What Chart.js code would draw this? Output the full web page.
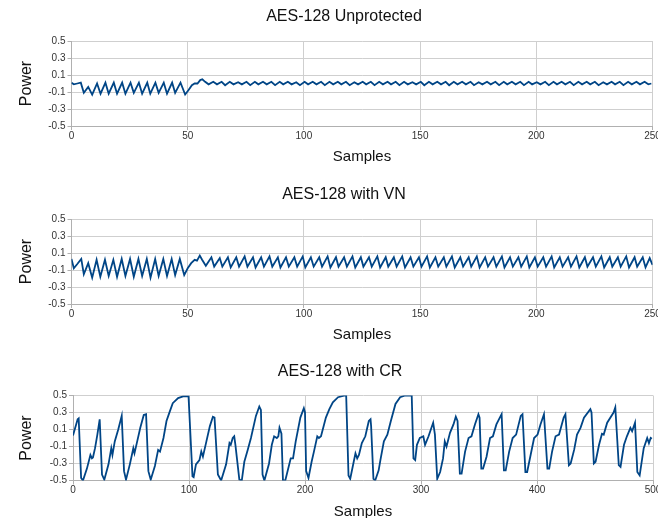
<!DOCTYPE html>
<html>
<head>
<meta charset="utf-8">
<style>
html,body{margin:0;padding:0;background:#fff;overflow:hidden;}
.painel{position:absolute;left:0;width:658px;}
.painel canvas{display:block;}
</style>
<script src="https://cdn.jsdelivr.net/npm/chart.js@4.4.0/dist/chart.umd.min.js"></script>
</head>
<body>
<div class="painel" style="top:0px;height:178px"><canvas id="g1" width="658" height="178"></canvas></div>
<div class="painel" style="top:178px;height:178px"><canvas id="g2" width="658" height="178"></canvas></div>
<div class="painel" style="top:356px;height:170px"><canvas id="g3" width="658" height="170"></canvas></div>
<script>
// valores
const yTicks = [-0.5, -0.3, -0.1, 0.1, 0.3, 0.5];
const xTicksCurto = [0, 50, 100, 150, 200, 250];
const xTicksLongo = [0, 100, 200, 300, 400, 500];

// AES-128 Unprotected (amostra, potência)
const unprotX = [
  0, 1, 2.5, 4, 5.3, 7.2, 8.9, 11, 12.5, 14.6,
  16, 18.2, 19.6, 21.8, 23.2, 25.4, 26.8, 29, 30.4, 32.6,
  33.9, 36.1, 37.5, 39.7, 41.1, 43.3, 44.6, 46.9, 48.9, 50.3,
  51.8, 53, 54.2, 55.4, 56.3, 57.5, 59.0, 61.0, 62.6, 64.6,
  66.1, 68.1, 69.7, 71.7, 73.3, 75.3, 76.9, 78.9, 80.4, 82.4,
  84.0, 86.0, 87.6, 89.6, 91.1, 93.1, 94.7, 96.7, 98.3, 100.3,
  101.8, 103.8, 105.4, 107.4, 109.0, 111.0, 112.6, 114.6, 116.1, 118.1,
  119.7, 121.7, 123.3, 125.3, 126.8, 128.8, 130.4, 132.4, 134.0, 136.0,
  137.5, 139.5, 141.1, 143.1, 144.7, 146.7, 148.3, 150.3, 151.8, 153.8,
  155.4, 157.4, 159.0, 161.0, 162.5, 164.5, 166.1, 168.1, 169.7, 171.7,
  173.2, 175.2, 176.8, 178.8, 180.4, 182.4, 184.0, 186.0, 187.5, 189.5,
  191.1, 193.1, 194.7, 196.7, 198.2, 200.2, 201.8, 203.8, 205.4, 207.4,
  208.9, 210.9, 212.5, 214.5, 216.1, 218.1, 219.7, 221.7, 223.2, 225.2,
  226.8, 228.8, 230.4, 232.4, 233.9, 235.9, 237.5, 239.5, 241.1, 243.1,
  244.6, 246.6, 248.2, 249.5
];
const unprotY = [
  0.01, -0.01, 0.0, 0.01, -0.11, -0.04, -0.13, 0.0, -0.12, 0.01,
  -0.12, 0.01, -0.12, 0.01, -0.12, 0.01, -0.11, 0.01, -0.12, 0.01,
  -0.12, 0.01, -0.11, 0.01, -0.12, 0.01, -0.11, 0.01, -0.13, -0.08,
  -0.02, 0.0, 0.0, 0.04, 0.05, 0.02, -0.01, 0.02, -0.01, 0.02,
  -0.02, 0.02, -0.01, 0.015, -0.01, 0.02, -0.02, 0.02, -0.01, 0.02,
  -0.01, 0.02, -0.02, 0.02, -0.01, 0.02, -0.01, 0.015, -0.02, 0.02,
  -0.01, 0.02, -0.01, 0.02, -0.02, 0.02, -0.01, 0.02, -0.01, 0.02,
  -0.02, 0.015, -0.01, 0.02, -0.01, 0.02, -0.02, 0.02, -0.01, 0.02,
  -0.01, 0.02, -0.02, 0.02, -0.01, 0.015, -0.01, 0.02, -0.02, 0.02,
  -0.01, 0.02, -0.01, 0.02, -0.02, 0.02, -0.01, 0.02, -0.01, 0.02,
  -0.02, 0.015, -0.01, 0.02, -0.01, 0.02, -0.02, 0.02, -0.01, 0.02,
  -0.01, 0.02, -0.02, 0.02, -0.01, 0.015, -0.01, 0.02, -0.02, 0.02,
  -0.01, 0.02, -0.01, 0.02, -0.02, 0.02, -0.01, 0.02, -0.01, 0.02,
  -0.02, 0.015, -0.01, 0.02, -0.01, 0.02, -0.02, 0.02, -0.01, 0.02,
  -0.01, 0.02, -0.01, 0.0
];

// AES-128 with VN
const vnX = [
  0, 1, 2.5, 4.2, 5.3, 7.2, 8.9, 10.8, 12.4, 14.4,
  16, 18, 19.6, 21.6, 23.2, 25.2, 26.8, 28.8, 30.4, 32.4,
  34, 36, 37.5, 39.5, 41.1, 43.1, 44.6, 46.6, 48.5, 50,
  51.5, 53, 54, 55.2, 56.2, 57.8, 60.2, 61.4, 63.8, 64.9,
  67.3, 68.5, 70.9, 72.1, 74.5, 75.7, 78.1, 79.2, 81.6, 82.8,
  85.2, 86.4, 88.8, 89.9, 92.3, 93.5, 95.9, 97.1, 99.5, 100.6,
  103.0, 104.2, 106.6, 107.8, 110.2, 111.4, 113.8, 114.9, 117.3, 118.5,
  120.9, 122.1, 124.5, 125.6, 128.0, 129.2, 131.6, 132.8, 135.2, 136.3,
  138.7, 139.9, 142.3, 143.5, 145.9, 147.1, 149.5, 150.6, 153.0, 154.2,
  156.6, 157.8, 160.2, 161.3, 163.7, 164.9, 167.3, 168.5, 170.9, 172.0,
  174.4, 175.6, 178.0, 179.2, 181.6, 182.8, 185.2, 186.3, 188.7, 189.9,
  192.3, 193.5, 195.9, 197.0, 199.4, 200.6, 203.0, 204.2, 206.6, 207.7,
  210.1, 211.3, 213.7, 214.9, 217.3, 218.5, 220.9, 222.0, 224.4, 225.6,
  228.0, 229.2, 231.6, 232.7, 235.1, 236.3, 238.7, 239.9, 242.3, 243.4,
  245.8, 247.0, 248.8, 250
];
const vnY = [
  0.03, -0.08, -0.03, 0.03, -0.15, -0.02, -0.19, 0.02, -0.18, 0.02,
  -0.17, 0.02, -0.18, 0.03, -0.17, 0.03, -0.18, 0.03, -0.17, 0.03,
  -0.19, 0.03, -0.17, 0.03, -0.17, 0.03, -0.16, 0.03, -0.16, -0.08,
  -0.02, 0.02, 0.01, 0.07, 0.02, -0.05, 0.05, -0.06, 0.04, -0.06,
  0.05, -0.07, 0.05, -0.06, 0.06, -0.06, 0.05, -0.07, 0.05, -0.06,
  0.06, -0.06, 0.05, -0.07, 0.05, -0.06, 0.05, -0.06, 0.06, -0.07,
  0.05, -0.06, 0.05, -0.06, 0.06, -0.07, 0.05, -0.06, 0.05, -0.06,
  0.06, -0.07, 0.05, -0.06, 0.05, -0.06, 0.06, -0.07, 0.05, -0.06,
  0.05, -0.06, 0.06, -0.07, 0.05, -0.06, 0.05, -0.06, 0.06, -0.07,
  0.05, -0.06, 0.05, -0.06, 0.06, -0.07, 0.05, -0.06, 0.05, -0.06,
  0.06, -0.07, 0.05, -0.06, 0.05, -0.06, 0.06, -0.07, 0.05, -0.06,
  0.05, -0.06, 0.06, -0.07, 0.05, -0.06, 0.05, -0.06, 0.06, -0.07,
  0.05, -0.06, 0.05, -0.06, 0.06, -0.07, 0.05, -0.06, 0.05, -0.06,
  0.06, -0.07, 0.05, -0.06, 0.05, -0.06, 0.06, -0.07, 0.05, -0.06,
  0.05, -0.07, 0.04, -0.04
];

// AES-128 with CR
const crX = [
  0, 4, 4.9, 7, 8.6, 12, 15, 16.3, 17.2, 19,
  21, 23, 25, 27, 30.6, 33, 34, 36, 39, 42,
  44, 45.7, 49, 52, 53, 55, 58, 61, 63, 65,
  67, 70.6, 73.4, 75, 78, 80.6, 83.4, 86, 90.6, 94.9,
  99.6, 103, 104, 106, 109, 110.6, 112, 115, 118, 120.6,
  122, 124.9, 127.7, 132, 134.9, 136, 137.7, 139, 140, 143.4,
  145.5, 147.7, 150.6, 153.4, 157.7, 160.6, 162, 163.4, 165, 169,
  171.4, 173.4, 175.7, 177, 178, 179.7, 181, 183, 187.7, 189.7,
  192, 196, 199, 200, 201, 203, 205.7, 207.7, 210.6, 212,
  213.8, 218, 221, 224, 228.5, 234.5, 235.5, 237.5, 239, 242,
  243.5, 245, 246.5, 249, 252, 255, 256.5, 257, 259, 260.5,
  263.5, 265, 268, 271, 274, 278, 282, 286.5, 292, 293.5,
  295, 296.5, 299, 302, 303.5, 306.5, 309, 310.5, 312, 314,
  316.5, 319, 320.5, 322, 325, 328, 330, 331.5, 333.5, 335,
  338, 341, 343.5, 346.5, 349.5, 350.5, 352, 353.5, 356.5, 359.5,
  362, 365, 369.5, 371.5, 373, 376, 379, 382, 386, 387.5,
  390, 391.5, 394.5, 397.5, 400.5, 403, 406, 409, 410.5, 413,
  416, 419, 423, 424.5, 427.5, 429, 432, 434.5, 437.5, 440.5,
  446, 447, 449, 450.5, 453.5, 456, 457.5, 460.5, 466, 467.5,
  470.5, 472, 475, 477.5, 480.5, 482, 484.5, 486.5, 488.5, 492,
  495, 496.5, 498, 499
];
const crY = [
  0.03, 0.22, 0.23, -0.47, -0.5, -0.36, -0.2, -0.24, -0.23, -0.12,
  0.04, 0.22, -0.43, -0.49, -0.31, -0.12, -0.2, -0.04, 0.1, 0.26,
  -0.39, -0.49, -0.31, -0.12, -0.18, -0.06, 0.12, 0.27, 0.28, -0.39,
  -0.49, -0.33, -0.14, -0.16, 0.0, 0.2, 0.31, 0.41, 0.47, 0.49,
  0.49, -0.45, -0.46, -0.31, -0.26, -0.16, -0.22, -0.04, 0.14, 0.25,
  0.24, -0.43, -0.5, -0.31, -0.06, -0.08, 0.0, 0.02, -0.08, -0.49,
  -0.5, -0.28, -0.14, 0.0, 0.26, 0.37, 0.33, -0.43, -0.5, -0.3,
  -0.08, 0.02, 0.0, 0.02, 0.12, 0.05, -0.5, -0.5, -0.24, -0.24,
  -0.04, 0.24, 0.35, 0.3, -0.39, -0.47, -0.28, -0.16, 0.02, 0.0,
  0.02, 0.24, 0.34, 0.42, 0.48, 0.5, 0.5, -0.44, -0.48, -0.28,
  -0.18, -0.24, -0.2, -0.06, 0.02, 0.2, 0.22, 0.14, -0.48, -0.5,
  -0.38, -0.26, -0.04, 0.04, 0.2, 0.4, 0.48, 0.5, 0.5, -0.24,
  -0.26, -0.08, 0.0, 0.02, -0.08, 0.02, 0.12, 0.18, 0.04, -0.48,
  -0.4, -0.24, -0.04, -0.1, 0.06, 0.16, 0.25, 0.2, -0.42, -0.42,
  -0.16, 0.0, 0.02, 0.16, 0.28, 0.24, -0.36, -0.36, -0.22, 0.0,
  0.02, 0.16, 0.28, -0.38, -0.38, -0.16, 0.0, 0.04, 0.26, 0.28,
  -0.4, -0.4, -0.2, 0.0, 0.04, 0.16, 0.28, -0.36, -0.36, -0.16,
  0.02, 0.04, 0.24, 0.28, -0.32, -0.3, -0.14, 0.04, 0.12, 0.24,
  0.34, 0.3, -0.3, -0.28, -0.08, 0.05, 0.04, 0.18, 0.3, 0.36,
  -0.32, -0.34, -0.08, 0.02, 0.12, 0.08, 0.18, -0.4, -0.44, -0.12,
  0.0, -0.06, 0.0, -0.01
];

const FONTE = "'Liberation Sans', Arial, sans-serif";
const COR_LINHA = '#004586';
const COR_GRADE = '#cfcfcf';

function pontos(xs, ys){
    if (xs.length !== ys.length) throw new Error('tamanhos diferentes: ' + xs.length + ' x ' + ys.length);
    return xs.map((x, i) => ({x: x, y: ys[i]}));
}

// geometria de cada painel (coordenadas locais do canvas)
function criarGrafico(id, titulo, xs, ys, xTicks, g){
    const ctx = document.getElementById(id).getContext('2d');
    const padEsq = g.tituloCentro * 2 - g.plotDir;
    return new Chart(ctx, {
        type: 'line',
        data: {datasets: [{
            data: pontos(xs, ys),
            borderColor: COR_LINHA,
            borderWidth: 1.8,
            pointRadius: 0,
            tension: 0,
            fill: false
        }]},
        options: {
            responsive: false,
            animation: false,
            devicePixelRatio: 1,
            parsing: false,
            layout: {padding: {left: padEsq, right: g.largura - g.plotDir, top: 0, bottom: 0}},
            plugins: {
                legend: {display: false},
                tooltip: {enabled: false},
                title: {
                    display: true, text: titulo, color: '#111',
                    font: {family: FONTE, size: 16, weight: 'normal', lineHeight: 1.2},
                    padding: {top: g.tituloY - 9.6, bottom: g.plotTopo - (g.tituloY - 9.6) - 19.2}
                }
            },
            scales: {
                x: {
                    type: 'linear', min: xTicks[0], max: xTicks[xTicks.length - 1],
                    afterBuildTicks: s => { s.ticks = xTicks.map(v => ({value: v})); },
                    afterFit: s => { s.height = g.altura - g.plotBase; s.paddingLeft = 0; s.paddingRight = 0; },
                    grid: {color: COR_GRADE, tickLength: 4, tickColor: '#b0b0b0'},
                    border: {color: '#b0b0b0'},
                    ticks: {font: {family: FONTE, size: 10}, color: '#333', padding: 0, maxRotation: 0, autoSkip: false},
                    title: {display: true, text: 'Samples', color: '#111',
                        font: {family: FONTE, size: 15, lineHeight: 1.2},
                        padding: {top: 0, bottom: (g.altura - g.samplesY) - 9}}
                },
                y: {
                    min: -0.5, max: 0.5,
                    afterBuildTicks: s => { s.ticks = yTicks.map(v => ({value: v})); },
                    afterFit: s => { s.width = g.plotEsq - padEsq; s.paddingTop = 0; s.paddingBottom = 0; },
                    grid: {color: COR_GRADE, tickLength: 4, tickColor: '#b0b0b0'},
                    border: {color: '#b0b0b0'},
                    ticks: {font: {family: FONTE, size: 10}, color: '#333', padding: 2,
                        callback: v => v.toFixed(1)},
                    title: {display: true, text: 'Power', color: '#111',
                        font: {family: FONTE, size: 16, lineHeight: 1.2},
                        padding: {top: g.powerX - padEsq - 9.6, bottom: 0}}
                }
            }
        }
    });
}

const geoSup = {largura: 658, altura: 178, plotEsq: 71.5, plotDir: 652.5, plotTopo: 41, plotBase: 126,
    tituloY: 17, tituloCentro: 344, samplesY: 157, powerX: 27};
const geoInf = {largura: 658, altura: 170, plotEsq: 73, plotDir: 653, plotTopo: 39.5, plotBase: 124.5,
    tituloY: 16, tituloCentro: 340, samplesY: 155.7, powerX: 27};

criarGrafico('g1', 'AES-128 Unprotected', unprotX, unprotY, xTicksCurto, geoSup);
criarGrafico('g2', 'AES-128 with VN', vnX, vnY, xTicksCurto, geoSup);
criarGrafico('g3', 'AES-128 with CR', crX, crY, xTicksLongo, geoInf);
</script>
</body>
</html>
